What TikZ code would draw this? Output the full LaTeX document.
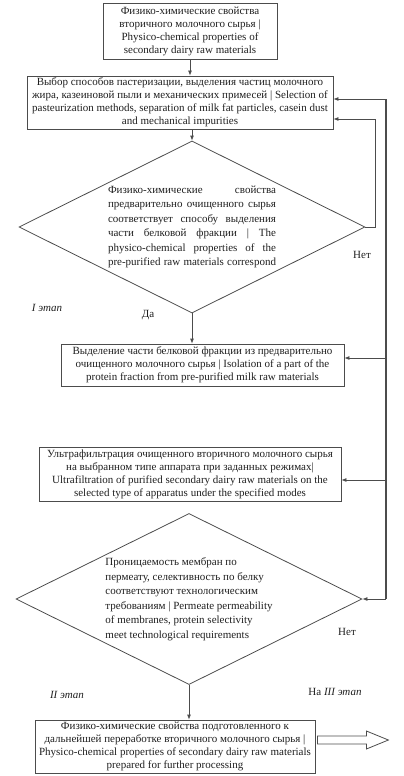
\documentclass[tikz,border=0pt]{standalone}
\usepackage{fontspec}
\setmainfont{Liberation Serif}
\usetikzlibrary{shapes.geometric,arrows.meta}
\definecolor{linegray}{gray}{0.3}
\definecolor{inkgray}{gray}{0.12}
\tikzset{
  box/.style={draw=linegray, line width=0.8pt, inner sep=1pt, align=center,
    font=\fontsize{11}{13}\selectfont, text=inkgray},
  decision/.style={draw=linegray, line width=0.8pt, shape=diamond, aspect=2,
    inner sep=0pt, minimum width=346pt, minimum height=172pt, align=left,
    font=\fontsize{11}{14.5}\selectfont, text=inkgray},
  note/.style={font=\fontsize{11}{13}\selectfont, text=inkgray, inner sep=0pt},
  stage/.style={note, font=\fontsize{11}{13}\selectfont\itshape},
  flow/.style={draw=linegray, line width=0.8pt, -{Latex[length=5pt,width=4pt]}},
  rail/.style={draw=linegray, line width=1.2pt}
}
\newcommand{\jline}[1]{\makebox[168pt][s]{#1}}
\begin{document}
\begin{tikzpicture}[x=1pt, y=-1pt]
      \useasboundingbox (0,0) rectangle (404,776);
      % boxes and decisions
      \node[box, minimum width=174pt, minimum height=56pt] (b1) at (190,31)
        {Физико-химические свойства\\ вторичного молочного сырья |\\
         Physico-chemical properties of\\ secondary dairy raw materials};
      \node[box, minimum width=306pt, minimum height=53pt] (b2) at (180,102.5)
        {Выбор способов пастеризации, выделения частиц молочного\\
         жира, казеиновой пыли и механических примесей | Selection of\\
         pasteurization methods, separation of milk fat particles, casein dust\\
         and mechanical impurities};
      \node[decision] (d1) at (192,227)
        {\jline{Физико-химические свойства}\\
         \jline{предварительно очищенного сырья}\\
         \jline{соответствует способу выделения}\\
         \jline{части белковой фракции | The}\\
         \jline{physico-chemical properties of the}\\
         \jline{pre-purified raw materials correspond}};
      \node[box, minimum width=283pt, minimum height=42pt] (b3) at (202.5,365)
        {Выделение части белковой фракции из предварительно\\
         очищенного молочного сырья | Isolation of a part of the\\
         protein fraction from pre-purified milk raw materials};
      \node[box, minimum width=302pt, minimum height=54pt] (b4) at (190,474)
        {Ультрафильтрация очищенного вторичного молочного сырья\\
         на выбранном типе аппарата при заданных режимах|\\
         Ultrafiltration of purified secondary dairy raw materials on the\\
         selected type of apparatus under the specified modes};
      \node[decision, minimum height=171pt] (d2) at (189,599)
        {Проницаемость мембран по\\
         пермеату, селективность по белку\\
         соответствуют технологическим\\
         требованиям | Permeate permeability\\
         of membranes, protein selectivity\\
         meet technological requirements};
      \node[box, minimum width=280pt, minimum height=53pt] (b5) at (175,746.5)
        {Физико-химические свойства подготовленного к\\
         дальнейшей переработке вторичного молочного сырья |\\
         Physico-chemical properties of secondary dairy raw materials\\
         prepared for further processing};
      % labels
      \node[note] (no1) at (362,255) {Нет};
      \node[stage] (st1) at (47,308) {I этап};
      \node[note] (yes1) at (148,315) {Да};
      \node[note] (no2) at (347,632) {Нет};
      \node[stage] (st2) at (67,695) {II этап};
      \node[note] (st3) at (335,692) {На \textit{III этап}};
      % rail points
      \coordinate (r2) at (375,119);
      \coordinate (rtop) at (386,99);
      \coordinate (r3) at (386,358);
      \coordinate (r4) at (386,480);
      \coordinate (rbot) at (386,599);
      \begin{scope}[flow]
        \draw (b1.south) -- (b1.south |- b2.north);
        \draw (d1.north |- b2.south) -- (d1.north);
        \draw (d1.south) -- (d1.south |- b3.north);
        \draw (d2.south) -- (d2.south |- b5.north);
        \draw (d1.east) -| (r2) -- (r2 -| b2.east);
        \draw (rtop) -- (rtop -| b2.east);
        \draw (r3) -- (r3 -| b3.east);
        \draw (r4) -- (r4 -| b4.east);
        \draw (rbot) -- (d2.east);
      \end{scope}
      \draw[rail] (rtop) -- (rbot);
      % hollow output arrow
      \coordinate (out) at ([xshift=2pt]b5.east |- 0,740);
      \draw[draw=linegray, line width=0.8pt]
        (out) +(0,-4) -- +(49,-4) -- +(49,-9) -- +(71,0)
        -- +(49,9) -- +(49,4) -- +(0,4) -- cycle;
\end{tikzpicture}
\end{document}
